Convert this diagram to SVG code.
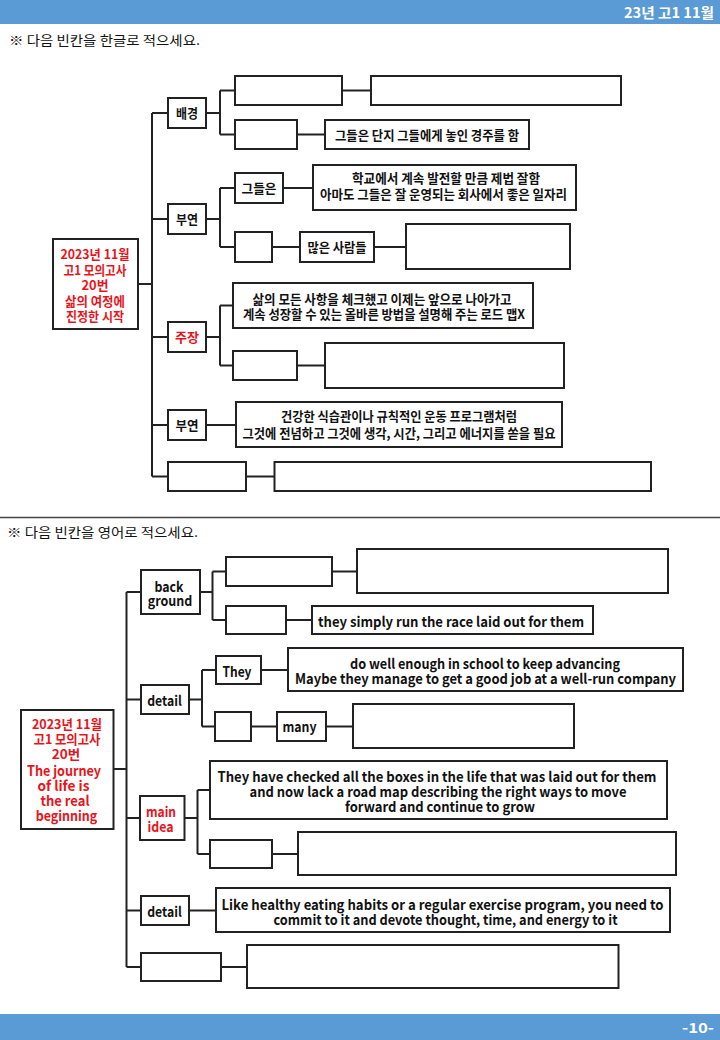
<svg xmlns="http://www.w3.org/2000/svg" width="720" height="1040" viewBox="0 0 720 1040">
<style>
.box{fill:#fff;stroke:#222;stroke-width:2}
.t{font-family:"Noto Sans CJK KR","Noto Sans",sans-serif;font-size:13px;font-weight:bold;fill:#111;text-anchor:middle}
.e{font-size:14px}
.r{fill:#e8141b}
.w{font-family:"Noto Sans CJK KR","Noto Sans",sans-serif;font-size:14px;font-weight:bold;fill:#fff;text-anchor:end}
.ins{font-family:"Noto Sans CJK KR","Noto Sans",sans-serif;font-size:13px;fill:#111}
.conn path{fill:none;stroke:#222;stroke-width:2}
</style>
<rect x="0" y="0" width="720" height="24" fill="#5b9bd5"/>
<text class="w" x="714" y="18" textLength="90" lengthAdjust="spacingAndGlyphs">23년 고1 11월</text>
<text class="ins" x="9" y="45" textLength="191" lengthAdjust="spacingAndGlyphs">※ 다음 빈칸을 한글로 적으세요.</text>
<line x1="0" y1="517.5" x2="720" y2="517.5" stroke="#444" stroke-width="1.5"/>
<text class="ins" x="7" y="536.5" textLength="191" lengthAdjust="spacingAndGlyphs">※ 다음 빈칸을 영어로 적으세요.</text>
<rect x="0" y="1014" width="720" height="26" fill="#5b9bd5"/>
<text class="w" x="714" y="1033" textLength="32" lengthAdjust="spacingAndGlyphs">-10-</text>

<g class="conn" id="connectors">
<path d="M138 284H152M152 113V476.5M152 113H168M152 219H168M152 337H168M152 425H168M152 476.5H168"/>
<path d="M206 113H220M220 90.5V134.5M220 90.5H235M220 134.5H235M342 90.5H371M297 134.5H325"/>
<path d="M206 219H220M220 188V247M220 188H235M220 247H235M283 188H313M272 247H300M374 247H406"/>
<path d="M206 337H220M220 305.5V365.5M220 305.5H233M220 365.5H233M297 365.5H325"/>
<path d="M206 425H236M246 476.5H274.5"/>
<path d="M113.5 769H126.5M126.5 592V967M126.5 592H141M126.5 699.5H141M126.5 818H140M126.5 910.5H141M126.5 967H141"/>
<path d="M200 592H212.5M212.5 571.5V620M212.5 571.5H226M212.5 620H226M332 571.5H357M286 620H312"/>
<path d="M189 699.5H202M202 670V726.5M202 670H216M202 726.5H215M261 670H288M251 726.5H277M326 726.5H353"/>
<path d="M184.5 818H197.5M197.5 790V854M197.5 790H210M197.5 854H210M272 854H298"/>
<path d="M189 910.5H216M221 967H247"/>
</g>

<!-- Top diagram -->
<g id="root1">
<rect class="box" x="53" y="239" width="85" height="90"/>
<text class="t r" x="95" y="259" textLength="69" lengthAdjust="spacingAndGlyphs">2023년 11월</text>
<text class="t r" x="95" y="274.5" textLength="63" lengthAdjust="spacingAndGlyphs">고1 모의고사</text>
<text class="t r" x="95" y="290" textLength="27" lengthAdjust="spacingAndGlyphs">20번</text>
<text class="t r" x="95" y="305.5" textLength="60" lengthAdjust="spacingAndGlyphs">삶의 여정에</text>
<text class="t r" x="95" y="320.5" textLength="58" lengthAdjust="spacingAndGlyphs">진정한 시작</text>
</g>
<g id="bg1"><rect class="box" x="168" y="98" width="38" height="30"/><text class="t" x="187" y="118" textLength="22" lengthAdjust="spacingAndGlyphs">배경</text></g>
<g id="bg1a"><rect class="box" x="235" y="76" width="107" height="29"/></g>
<g id="bg1b"><rect class="box" x="371" y="76" width="250" height="29"/></g>
<g id="bg2a"><rect class="box" x="235" y="120" width="62" height="29"/></g>
<g id="bg2b"><rect class="box" x="325" y="120" width="204" height="29"/><text class="t" x="427" y="140" textLength="184" lengthAdjust="spacingAndGlyphs">그들은 단지 그들에게 놓인 경주를 함</text></g>
<g id="sup1"><rect class="box" x="168" y="204" width="38" height="30"/><text class="t" x="187" y="223.5" textLength="22" lengthAdjust="spacingAndGlyphs">부연</text></g>
<g id="they1"><rect class="box" x="235" y="173" width="48" height="30"/><text class="t" x="259" y="192.5" textLength="35" lengthAdjust="spacingAndGlyphs">그들은</text></g>
<g id="school1"><rect class="box" x="313" y="165" width="263" height="45"/>
<text class="t" x="446" y="183" textLength="188" lengthAdjust="spacingAndGlyphs">학교에서 계속 발전할 만큼 제법 잘함</text>
<text class="t" x="443.5" y="198.5" textLength="247" lengthAdjust="spacingAndGlyphs">아마도 그들은 잘 운영되는 회사에서 좋은 일자리</text></g>
<g id="s1a"><rect class="box" x="235" y="232" width="37" height="30"/></g>
<g id="many1"><rect class="box" x="300" y="232" width="74" height="30"/><text class="t" x="337" y="252" textLength="59" lengthAdjust="spacingAndGlyphs">많은 사람들</text></g>
<g id="s1b"><rect class="box" x="406" y="224" width="164" height="45"/></g>
<g id="main1"><rect class="box" x="168" y="322" width="38" height="30"/><text class="t r" x="187" y="342" textLength="24" lengthAdjust="spacingAndGlyphs">주장</text></g>
<g id="main1a"><rect class="box" x="233" y="283" width="300" height="45"/>
<text class="t" x="382" y="303.5" textLength="259" lengthAdjust="spacingAndGlyphs">삶의 모든 사항을 체크했고 이제는 앞으로 나아가고</text>
<text class="t" x="384" y="319" textLength="282" lengthAdjust="spacingAndGlyphs">계속 성장할 수 있는 올바른 방법을 설명해 주는 로드 맵X</text></g>
<g id="main1b"><rect class="box" x="233" y="351" width="64" height="29"/></g>
<g id="main1c"><rect class="box" x="325" y="343" width="239" height="45"/></g>
<g id="sup2"><rect class="box" x="168" y="410" width="38" height="30"/><text class="t" x="187" y="430" textLength="23" lengthAdjust="spacingAndGlyphs">부연</text></g>
<g id="sup2a"><rect class="box" x="236" y="402" width="326" height="45"/>
<text class="t" x="399" y="421" textLength="236" lengthAdjust="spacingAndGlyphs">건강한 식습관이나 규칙적인 운동 프로그램처럼</text>
<text class="t" x="399" y="437.5" textLength="313" lengthAdjust="spacingAndGlyphs">그것에 전념하고 그것에 생각, 시간, 그리고 에너지를 쏟을 필요</text></g>
<g id="last1a"><rect class="box" x="168" y="462" width="78" height="29"/></g>
<g id="last1b"><rect class="box" x="274.5" y="462" width="376.5" height="29"/></g>

<!-- Bottom diagram -->
<g id="root2">
<rect class="box" x="21" y="710" width="92.5" height="119"/>
<text class="t r" x="67" y="728.5" textLength="70" lengthAdjust="spacingAndGlyphs">2023년 11월</text>
<text class="t r" x="67" y="743.5" textLength="67" lengthAdjust="spacingAndGlyphs">고1 모의고사</text>
<text class="t r" x="66" y="758.5" textLength="28.5" lengthAdjust="spacingAndGlyphs">20번</text>
<text class="t e r" x="64" y="775.5" textLength="74" lengthAdjust="spacingAndGlyphs">The journey</text>
<text class="t e r" x="63.5" y="790.5" textLength="52" lengthAdjust="spacingAndGlyphs">of life is</text>
<text class="t e r" x="65" y="805.5" textLength="49" lengthAdjust="spacingAndGlyphs">the real</text>
<text class="t e r" x="66.5" y="820.5" textLength="61.5" lengthAdjust="spacingAndGlyphs">beginning</text>
</g>
<g id="bg2"><rect class="box" x="141" y="570" width="59" height="44"/>
<text class="t e" x="169" y="592" textLength="29" lengthAdjust="spacingAndGlyphs">back</text>
<text class="t e" x="170" y="606" textLength="44.5" lengthAdjust="spacingAndGlyphs">ground</text></g>
<g id="bg2a1"><rect class="box" x="226" y="557" width="106" height="29"/></g>
<g id="bg2b1"><rect class="box" x="357" y="549" width="311" height="44"/></g>
<g id="bg2a2"><rect class="box" x="226" y="606" width="60" height="28"/></g>
<g id="bg2b2"><rect class="box" x="312" y="606" width="281" height="28"/><text class="t e" x="451" y="626.5" textLength="266" lengthAdjust="spacingAndGlyphs">they simply run the race laid out for them</text></g>
<g id="det1"><rect class="box" x="141" y="685" width="48" height="29"/><text class="t e" x="164.5" y="706" textLength="34.5" lengthAdjust="spacingAndGlyphs">detail</text></g>
<g id="they2"><rect class="box" x="216" y="656" width="45" height="28"/><text class="t e" x="237" y="676.5" textLength="29" lengthAdjust="spacingAndGlyphs">They</text></g>
<g id="dowell"><rect class="box" x="288" y="648" width="395" height="43"/>
<text class="t e" x="485" y="669" textLength="270" lengthAdjust="spacingAndGlyphs">do well enough in school to keep advancing</text>
<text class="t e" x="485.5" y="683.5" textLength="381" lengthAdjust="spacingAndGlyphs">Maybe they manage to get a good job at a well-run company</text></g>
<g id="det1s"><rect class="box" x="215" y="712" width="36" height="29"/></g>
<g id="many2"><rect class="box" x="277" y="712" width="49" height="29"/><text class="t e" x="299.5" y="732" textLength="34" lengthAdjust="spacingAndGlyphs">many</text></g>
<g id="det1b"><rect class="box" x="353" y="704" width="221" height="44"/></g>
<g id="main2"><rect class="box" x="140" y="796" width="44.5" height="44"/>
<text class="t e r" x="161" y="817" textLength="30" lengthAdjust="spacingAndGlyphs">main</text>
<text class="t e r" x="160.5" y="832" textLength="26" lengthAdjust="spacingAndGlyphs">idea</text></g>
<g id="main2a"><rect class="box" x="210" y="761" width="457" height="58"/>
<text class="t e" x="437" y="782" textLength="439" lengthAdjust="spacingAndGlyphs">They have checked all the boxes in the life that was laid out for them</text>
<text class="t e" x="438" y="797" textLength="377" lengthAdjust="spacingAndGlyphs">and now lack a road map describing the right ways to move</text>
<text class="t e" x="440" y="812" textLength="190" lengthAdjust="spacingAndGlyphs">forward and continue to grow</text></g>
<g id="main2b"><rect class="box" x="210" y="840" width="62" height="28"/></g>
<g id="main2c"><rect class="box" x="298" y="832" width="378" height="43"/></g>
<g id="det2"><rect class="box" x="141" y="896" width="48" height="29"/><text class="t e" x="164.5" y="917" textLength="34.5" lengthAdjust="spacingAndGlyphs">detail</text></g>
<g id="det2a"><rect class="box" x="216" y="888" width="454" height="44"/>
<text class="t e" x="442.5" y="909.5" textLength="442" lengthAdjust="spacingAndGlyphs">Like healthy eating habits or a regular exercise program, you need to</text>
<text class="t e" x="445.5" y="924.5" textLength="344" lengthAdjust="spacingAndGlyphs">commit to it and devote thought, time, and energy to it</text></g>
<g id="last2a"><rect class="box" x="141" y="953" width="80" height="28"/></g>
<g id="last2b"><rect class="box" x="247" y="945" width="371.5" height="43"/></g>
</svg>
